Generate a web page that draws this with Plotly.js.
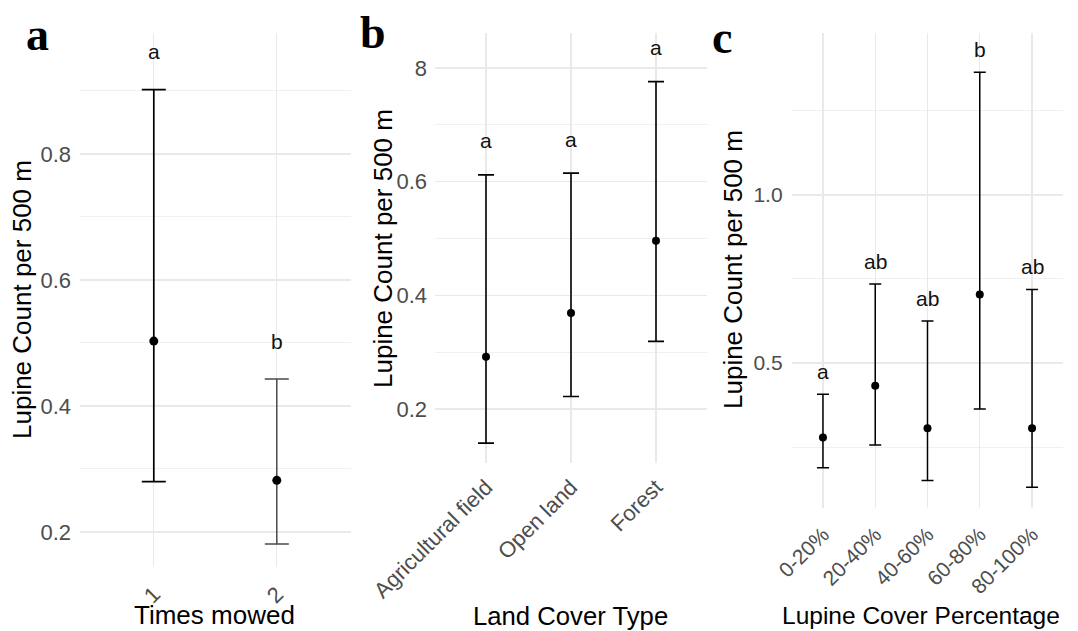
<!DOCTYPE html>
<html>
<head>
<meta charset="utf-8">
<script src="https://cdn.plot.ly/plotly-3.0.1.min.js"></script>
<style>html,body{margin:0;padding:0;background:#fff;}#chart{width:1078px;height:631px;}</style>
</head>
<body>
<div id="chart"></div>
<script>
// ---- Data ----
const mowCats = ['1', '2'];
const mowMean = [0.503, 0.282];
const mowUpper = [0.902, 0.443];
const mowLower = [0.280, 0.181];
const mowLetters = ['a', 'b'];

const landCats = ['Agricultural field', 'Open land', 'Forest'];
const landMean = [0.292, 0.369, 0.496];
const landUpper = [0.612, 0.615, 0.776];
const landLower = [0.140, 0.222, 0.319];
const landLetters = ['a', 'a', 'a'];

const coverCats = ['0-20%', '20-40%', '40-60%', '60-80%', '80-100%'];
const coverMean = [0.278, 0.432, 0.306, 0.704, 0.306];
const coverUpper = [0.407, 0.735, 0.625, 1.365, 0.719];
const coverLower = [0.188, 0.256, 0.150, 0.363, 0.130];
const coverLetters = ['a', 'ab', 'ab', 'b', 'ab'];

const mowYTicks = [0.2, 0.4, 0.6, 0.8];
const mowYText = ['0.2', '0.4', '0.6', '0.8'];
const landYTicks = [0.2, 0.4, 0.6, 0.8];
const landYText = ['0.2', '0.4', '0.6', '8'];
const coverYTicks = [0.5, 1.0];
const coverYText = ['0.5', '1.0'];

const yTitle = 'Lupine Count per 500 m';
const xTitles = ['Times mowed', 'Land Cover Type', 'Lupine Cover Percentage'];
const panelLetters = ['a', 'b', 'c'];

// ---- Helpers ----
const W = 1078, H = 631;
const SANS = 'Liberation Sans, Arial, sans-serif';
const px = v => v / W;
const py = v => 1 - v / H;

function errTrace(cats, mean, upper, lower, xa, ya, opts, idx) {
  const sel = idx ? idx : mean.map((_, i) => i);
  return {
    type: 'scatter', mode: 'markers', xaxis: xa, yaxis: ya,
    x: sel.map(i => cats[i]), y: sel.map(i => mean[i]),
    marker: {color: '#000', size: opts.size},
    error_y: {
      type: 'data', symmetric: false, visible: true,
      array: sel.map(i => upper[i] - mean[i]),
      arrayminus: sel.map(i => mean[i] - lower[i]),
      width: opts.width, thickness: opts.thick, color: opts.color
    },
    showlegend: false, hoverinfo: 'x+y'
  };
}

const traces = [
  errTrace(mowCats, mowMean, mowUpper, mowLower, 'x', 'y', {size: 9, width: 12, thick: 1.7, color: '#000'}, [0]),
  errTrace(mowCats, mowMean, mowUpper, mowLower, 'x', 'y', {size: 9, width: 12, thick: 1.5, color: '#4a4a4a'}, [1]),
  errTrace(landCats, landMean, landUpper, landLower, 'x2', 'y2', {size: 8, width: 8, thick: 1.6, color: '#000'}),
  errTrace(coverCats, coverMean, coverUpper, coverLower, 'x3', 'y3', {size: 8, width: 6, thick: 1.5, color: '#000'})
];

const gridMajor = '#e9e9e9';
const gridMinor = '#f0f0f0';
const tickFont = {family: SANS, size: 21, color: '#4d4d4d'};

function xAxis(cats, dom, anchor, standoff, fsize) {
  return {
    type: 'category', domain: dom, anchor: anchor, categoryorder: 'array', categoryarray: cats,
    range: [-0.6, cats.length - 0.4], showgrid: true, gridcolor: gridMajor, gridwidth: 1.2,
    zeroline: false, showline: false, ticks: '', tickangle: -45,
    tickfont: Object.assign({}, tickFont, {size: fsize}), ticklabelstandoff: standoff, fixedrange: true
  };
}
function yAxis(dom, anchor, range, tv, tt, minorDt, standoff, fsize) {
  return {
    domain: dom, anchor: anchor, range: range, tickvals: tv, ticktext: tt,
    showgrid: true, gridcolor: gridMajor, gridwidth: 1.2, zeroline: false, showline: false, ticks: '',
    minor: {dtick: minorDt, tick0: 0, showgrid: true, gridcolor: gridMinor, gridwidth: 1, ticks: ''},
    tickfont: Object.assign({}, tickFont, {size: fsize}), ticklabelstandoff: standoff, fixedrange: true
  };
}

const layout = {
  width: W, height: H, margin: {l: 0, r: 0, t: 0, b: 0},
  paper_bgcolor: '#fff', plot_bgcolor: '#fff', showlegend: false,
  font: {family: SANS},
  xaxis: xAxis(mowCats, [px(80), px(350.6)], 'y', 9, 22),
  yaxis: yAxis([py(567), py(33)], 'x', [0.1444, 0.992], mowYTicks, mowYText, 0.1, 8, 22),
  xaxis2: xAxis(landCats, [px(435), px(707)], 'y2', 6, 22),
  yaxis2: yAxis([py(463), py(33)], 'x2', [0.105, 0.8616], landYTicks, landYText, 0.1, 7, 22),
  xaxis3: xAxis(coverCats, [px(791.6), px(1063.4)], 'y3', 9, 21),
  yaxis3: yAxis([py(508), py(33)], 'x3', [0.0685, 1.482], coverYTicks, coverYText, 8, 8, 21),
  annotations: []
};
layout.yaxis3.minor.dtick = 0.25;

// category axes: annotation x given as the category index
function letterAnns(cats, upper, letters, xa, ya, off) {
  return cats.map((c, i) => ({
    xref: xa, yref: ya, x: i, y: upper[i] + off, text: letters[i], showarrow: false,
    xanchor: 'center', yanchor: 'middle', font: {family: SANS, size: 21, color: '#111'}
  }));
}
layout.annotations.push(...letterAnns(mowCats, mowUpper, mowLetters, 'x', 'y', 0.06));
layout.annotations.push(...letterAnns(landCats, landUpper, landLetters, 'x2', 'y2', 0.06));
layout.annotations.push(...letterAnns(coverCats, coverUpper, coverLetters, 'x3', 'y3', 0.067));

// Y titles
[[22, 300, 26], [383, 249, 26], [733, 270, 26]].forEach(([x, y, s]) => {
  layout.annotations.push({xref: 'paper', yref: 'paper', x: px(x), y: py(y), text: yTitle, textangle: -90,
    showarrow: false, xanchor: 'center', yanchor: 'middle', font: {family: SANS, size: s, color: '#000'}});
});
// X titles
[[214, 615, 26], [570, 616, 25.7], [921, 615, 24.5]].forEach(([x, y, s], i) => {
  layout.annotations.push({xref: 'paper', yref: 'paper', x: px(x), y: py(y), text: xTitles[i],
    showarrow: false, xanchor: 'center', yanchor: 'middle', font: {family: SANS, size: s, color: '#000'}});
});
// Panel letters
[[37, 34], [373, 33], [722, 38]].forEach(([x, y], i) => {
  layout.annotations.push({xref: 'paper', yref: 'paper', x: px(x), y: py(y), text: '<b>' + panelLetters[i] + '</b>',
    showarrow: false, xanchor: 'center', yanchor: 'middle',
    font: {family: 'Liberation Serif, Times New Roman, serif', size: 46, color: '#000'}});
});

Plotly.newPlot('chart', traces, layout, {displayModeBar: false, staticPlot: true});
</script>
</body>
</html>
